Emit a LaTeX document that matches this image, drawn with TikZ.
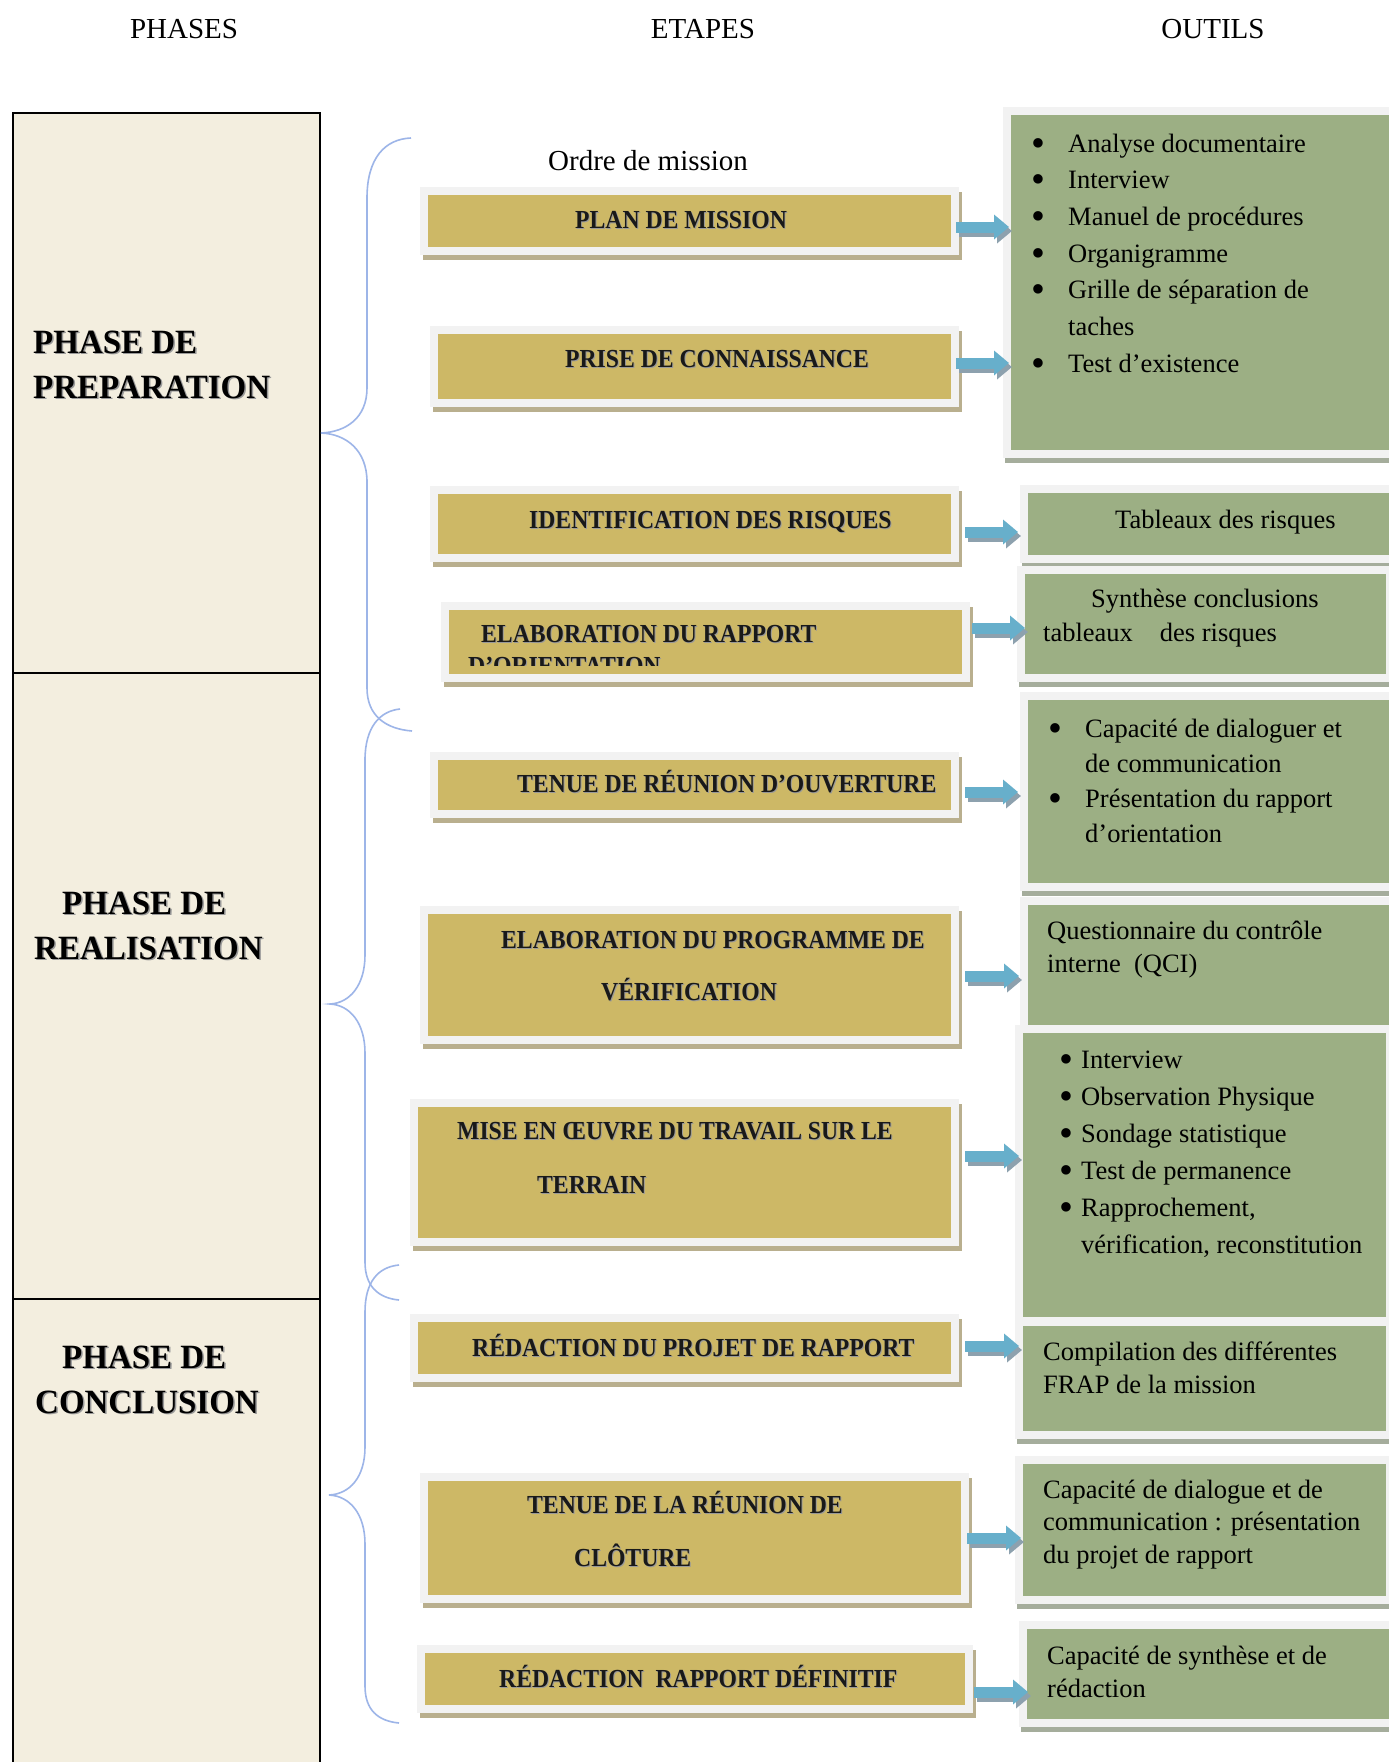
\documentclass[tikz,border=0pt]{standalone}
\usepackage{graphicx}
\usepackage{fontspec}
\setmainfont{Liberation Serif}
\newfontfamily\algf[FakeStretch=0.91]{Liberation Serif}
\newfontfamily\algp[FakeStretch=0.97]{Liberation Serif}
\usetikzlibrary{arrows.meta,calc}

\definecolor{cream}{HTML}{F3EEDF}
\definecolor{goldbox}{HTML}{CDB866}
\definecolor{framegray}{HTML}{F2F2F2}
\definecolor{eshadow}{HTML}{B9AF8E}
\definecolor{greenbox}{HTML}{9CAF84}
\definecolor{gshadow}{HTML}{A5AD9C}
\definecolor{arrowblue}{HTML}{67AFCB}
\definecolor{arrowsh}{HTML}{8DA1AE}
\definecolor{bracecol}{HTML}{9DB5E8}

% engraved-looking capitals: grey copy offset behind black text
\newcommand\shd[2]{\leavevmode\rlap{\hspace{#1}\raisebox{-#1}{\color{black!40}#2}}#2}
% large round bullet, kept out of the line height
\newcommand\bdot{\smash{\raisebox{-4.2pt}{\scalebox{1.5}{•}}}}
% bullet item with a fixed hanging width
\newcommand\blt[2]{\makebox[#1][l]{\bdot}#2}

\begin{document}
\begin{tikzpicture}[x=1pt,y=-1pt,
  cell/.style={rectangle, draw=black, line width=2pt, fill=cream, inner sep=0pt},
  ebox/.style={rectangle, draw=framegray, line width=8pt, fill=goldbox, inner sep=0pt,
    preaction={draw=eshadow, fill=eshadow, transform canvas={shift={(3pt,-5pt)}}}},
  gbox/.style={rectangle, draw=framegray, line width=8pt, fill=greenbox, inner sep=0pt,
    preaction={draw=gshadow, fill=gshadow, transform canvas={shift={(2pt,-5pt)}}}},
  etxt/.style={inner sep=0pt, anchor=base west, text=black!90,
    font=\algf\bfseries\fontsize{26}{53}\selectfont},
  ptxt/.style={inner sep=0pt, anchor=base west,
    font=\algp\bfseries\fontsize{34}{45}\selectfont},
  gtxt/.style={inner sep=0pt, anchor=base west, font=\fontsize{26.5}{33}\selectfont},
  head/.style={inner sep=0pt, anchor=base, font=\fontsize{29}{34}\selectfont},
  brace/.style={draw=bracecol, line width=1.6pt},
  aline/.style={draw=arrowblue, line width=11pt, -{Triangle[length=15pt,width=24pt]}},
  ashadow/.style={aline, draw=arrowsh, transform canvas={shift={(3pt,-4pt)}}}
]
\useasboundingbox (0,0) rectangle (1389,1762);
\fill[white] (0,0) rectangle (1389,1762);
\clip (0,0) rectangle (1389,1762);

% column headings
\node[head] (hp) at (184,38.5) {PHASES};
\node[head] (he) at (703,38.5) {ETAPES};
\node[head] (ho) at (1213,38.5) {OUTILS};

% phase column
\node[cell, minimum width=307pt, minimum height=560pt] (c1) at (166.5,393) {};
\node[cell, minimum width=307pt, minimum height=626pt] (c2) at (166.5,986) {};
\node[cell, minimum width=307pt, minimum height=491pt] (c3) at (166.5,1544.5) {};

\node[ptxt] (p1a) at (33,353) {\shd{1.5pt}{PHASE DE}};
\node[ptxt] (p1b) at (33,398) {\shd{1.5pt}{PREPARATION}};
\node[ptxt] (p2a) at (62,914) {\shd{1.5pt}{PHASE DE}};
\node[ptxt] (p2b) at (34,959) {\shd{1.5pt}{REALISATION}};
\node[ptxt] (p3a) at (62,1368) {\shd{1.5pt}{PHASE DE}};
\node[ptxt] (p3b) at (35,1413) {\shd{1.5pt}{CONCLUSION}};

% braces grouping the steps of each phase
\draw[brace] (411,138) .. controls (385,139) and (367,158) .. (367,198) -- (367,388)
  .. controls (367,418) and (346,432) .. (321,433)
  .. controls (346,434) and (367,450) .. (367,482) -- (367,688)
  .. controls (367,716) and (386,729) .. (412,731);
\draw[brace] (400,709) .. controls (380,711) and (365,727) .. (365,760) -- (365,955)
  .. controls (365,985) and (350,1003) .. (330,1004)
  .. controls (350,1005) and (365,1023) .. (365,1053) -- (365,1262)
  .. controls (365,1286) and (378,1298) .. (399,1300);
\draw[brace] (399,1265) .. controls (378,1267) and (365,1282) .. (365,1312) -- (365,1447)
  .. controls (365,1477) and (350,1494) .. (329,1495)
  .. controls (350,1496) and (365,1514) .. (365,1544) -- (365,1686)
  .. controls (365,1710) and (378,1721) .. (399,1723);

\node[gtxt, font=\fontsize{29}{34}\selectfont] (om) at (548,170) {Ordre de mission};

% steps
\node[ebox, minimum width=531pt, minimum height=60pt] (e1) at (689.5,221) {};
\node[ebox, minimum width=521pt, minimum height=73pt] (e2) at (694.5,366.5) {};
\node[ebox, minimum width=521pt, minimum height=68pt] (e3) at (694.5,524) {};
\node[ebox, minimum width=521pt, minimum height=72pt] (e4) at (705.5,642) {};
\node[ebox, minimum width=521pt, minimum height=58pt] (e5) at (694.5,785) {};
\node[ebox, minimum width=531pt, minimum height=130pt] (e6) at (689.5,975) {};
\node[ebox, minimum width=541pt, minimum height=139pt] (e7) at (684.5,1172.5) {};
\node[ebox, minimum width=541pt, minimum height=60pt] (e8) at (684.5,1348) {};
\node[ebox, minimum width=541pt, minimum height=122pt] (e9) at (694.5,1538) {};
\node[ebox, minimum width=548pt, minimum height=60pt] (e10) at (695,1679) {};

\node[etxt] (l1) at (575,228) {\shd{1pt}{PLAN DE MISSION}};
\node[etxt] (l2) at (565,367) {\shd{1pt}{PRISE DE CONNAISSANCE}};
\node[etxt] (l3) at (529,528) {\shd{1pt}{IDENTIFICATION DES RISQUES}};
\node[etxt] (l4) at (481,642) {\shd{1pt}{ELABORATION DU RAPPORT}};
\begin{scope}
  \clip (448,609) rectangle (962,665);
  \node[etxt] (l4b) at (468,674) {\shd{1pt}{D’ORIENTATION}};
\end{scope}
\node[etxt] (l5) at (517,792) {\shd{1pt}{TENUE DE RÉUNION D’OUVERTURE}};
\node[etxt] (l6a) at (501,948) {\shd{1pt}{ELABORATION DU PROGRAMME DE}};
\node[etxt] (l6b) at (601,1000) {\shd{1pt}{VÉRIFICATION}};
\node[etxt] (l7a) at (457,1139) {\shd{1pt}{MISE EN ŒUVRE DU TRAVAIL SUR LE}};
\node[etxt] (l7b) at (537,1193) {\shd{1pt}{TERRAIN}};
\node[etxt] (l8) at (472,1356) {\shd{1pt}{RÉDACTION DU PROJET DE RAPPORT}};
\node[etxt] (l9a) at (527,1513) {\shd{1pt}{TENUE DE LA RÉUNION DE}};
\node[etxt] (l9b) at (574,1566) {\shd{1pt}{CLÔTURE}};
\node[etxt] (l10) at (499,1687) {\shd{1pt}{RÉDACTION\ \ RAPPORT DÉFINITIF}};

% tools
\node[gbox, minimum width=389pt, minimum height=343pt] (g1) at (1201.5,282.5) {};
\node[gbox, minimum width=372pt, minimum height=70pt] (g2) at (1210,524) {};
\node[gbox, minimum width=369pt, minimum height=108pt] (g3) at (1205.5,624) {};
\node[gbox, minimum width=372pt, minimum height=191pt] (g4) at (1210,791.5) {};
\node[gbox, minimum width=372pt, minimum height=128pt] (g5) at (1210,965) {};
\node[gbox, minimum width=371pt, minimum height=292pt] (g6) at (1204.5,1175) {};
\node[gbox, minimum width=371pt, minimum height=113pt] (g7) at (1204.5,1378.5) {};
\node[gbox, minimum width=371pt, minimum height=140pt] (g8) at (1204.5,1530) {};
\node[gbox, minimum width=373pt, minimum height=98pt] (g9) at (1209.5,1674) {};

\node[gtxt] (t1) at (1031,152) {\parbox[t]{350pt}{\fontsize{26.5}{36.67}\selectfont
  \blt{37pt}{Analyse documentaire}\\
  \blt{37pt}{Interview}\\
  \blt{37pt}{Manuel de procédures}\\
  \blt{37pt}{Organigramme}\\
  \blt{37pt}{Grille de séparation de}\\
  \hspace*{37pt}taches\\
  \blt{37pt}{Test d’existence}}};
\node[gtxt] (t2) at (1115,528) {Tableaux des risques};
\node[gtxt] (t3a) at (1091,607) {Synthèse conclusions};
\node[gtxt] (t3b) at (1043,641) {tableaux\hspace{27pt}des risques};
\node[gtxt] (t4) at (1048,737) {\parbox[t]{330pt}{\fontsize{26.5}{35.3}\selectfont
  \blt{37pt}{Capacité de dialoguer et}\\
  \hspace*{37pt}de communication\\
  \blt{37pt}{Présentation du rapport}\\
  \hspace*{37pt}d’orientation}};
\node[gtxt] (t5) at (1047,939) {\parbox[t]{330pt}{Questionnaire du contrôle\\
  interne\ \ (QCI)}};
\node[gtxt] (t6) at (1059,1068) {\parbox[t]{330pt}{\fontsize{26.5}{37}\selectfont
  \blt{22pt}{Interview}\\
  \blt{22pt}{Observation Physique}\\
  \blt{22pt}{Sondage statistique}\\
  \blt{22pt}{Test de permanence}\\
  \blt{22pt}{Rapprochement,}\\
  \hspace*{22pt}vérification, reconstitution}};
\node[gtxt] (t7) at (1043,1360) {\parbox[t]{330pt}{Compilation des différentes\\
  FRAP de la mission}};
\node[gtxt] (t8) at (1043,1498) {\parbox[t]{330pt}{\fontsize{26.5}{32.5}\selectfont
  Capacité de dialogue et de\\
  communication : présentation\\
  du projet de rapport}};
\node[gtxt] (t9) at (1047,1664) {\parbox[t]{330pt}{Capacité de synthèse et de\\
  rédaction}};

% block arrows from each step to its tools
\foreach \fa/\fb/\ga/\gb/\yy in {e1/-3/g1/6/227, e2/-3/g1/6/363, e3/6/g2/-2/532,
    e4/2/g3/8/628, e5/6/g4/-2/792, e6/6/g5/-1/976, e7/6/g6/4/1156,
    e8/6/g7/4/1346, e9/-2/g8/6/1538, e10/1/g9/9/1692}{
  \coordinate (ay) at (0,\yy);
  \draw[ashadow] ($(\fa.east |- ay)+(\fb,0)$) -- ($(\ga.west |- ay)+(\gb,0)$);
  \draw[aline] ($(\fa.east |- ay)+(\fb,0)$) -- ($(\ga.west |- ay)+(\gb,0)$);
}
\end{tikzpicture}
\end{document}
